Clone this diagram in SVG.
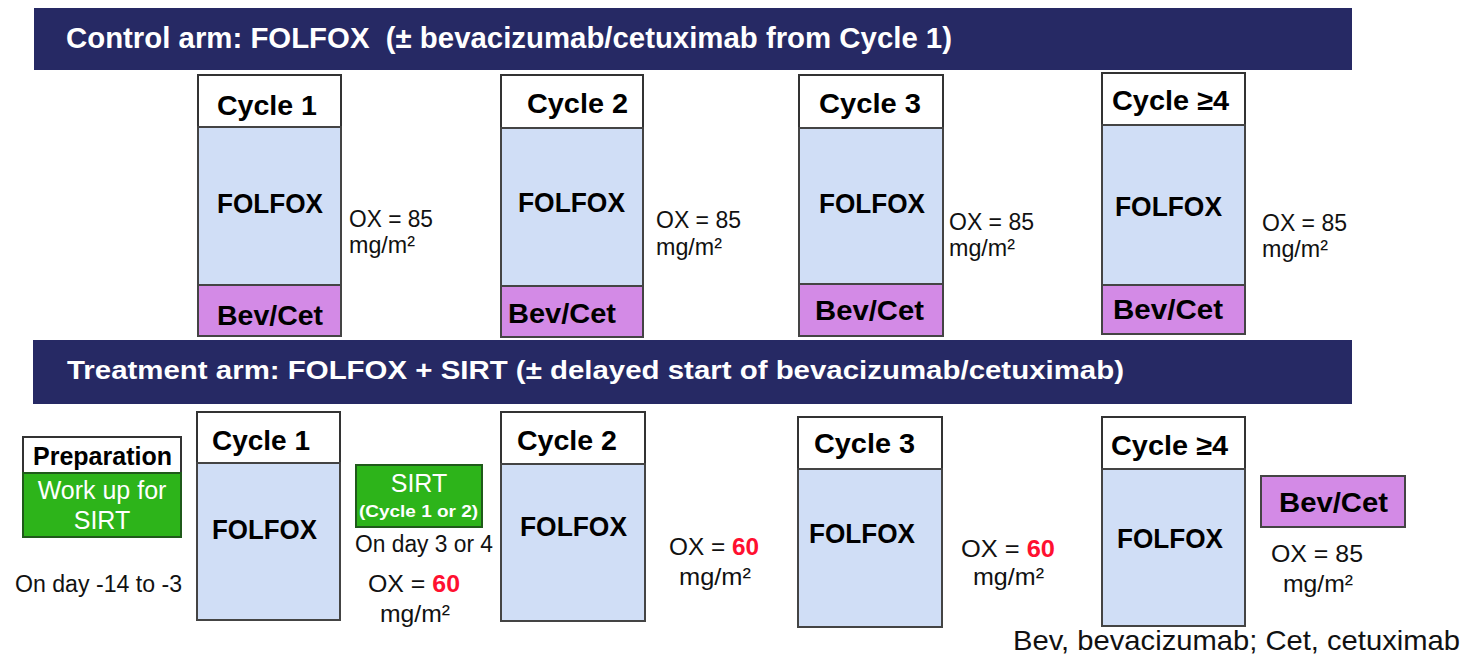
<svg xmlns="http://www.w3.org/2000/svg" width="1470" height="661" viewBox="0 0 1470 661">
<style>
text{font-family:"Liberation Sans",Arial,sans-serif;}
.hdr{fill:#262964;}
.hdrt{fill:#ffffff;font-weight:bold;}
.cyc{fill:#ffffff;stroke:#333333;stroke-width:2;}
.ff{fill:#d0def6;stroke:#444444;stroke-width:2;}
.bev{fill:#d38ae6;stroke:#444444;stroke-width:2;}
.grn{fill:#2db41a;stroke:#1f5a1a;stroke-width:2;}
.b28{font-size:28px;font-weight:bold;fill:#000;}
.ffx{font-size:27px;font-weight:bold;fill:#000;}
.ox{font-size:24px;fill:#111;}
.red{fill:#ff1030;font-weight:bold;}
.wt{font-size:25px;fill:#ffffff;}
</style>

<g id="control-header">
<rect class="hdr" x="34" y="8" width="1318" height="62"/>
<text class="hdrt" x="66" y="48" font-size="29" textLength="886" lengthAdjust="spacingAndGlyphs">Control arm: FOLFOX &#160;(± bevacizumab/cetuximab from Cycle 1)</text>
</g>

<g id="control-cycle1">
<rect class="cyc" x="198" y="75" width="143" height="52"/>
<rect class="ff" x="198" y="127" width="143" height="158"/>
<rect class="bev" x="198" y="285" width="143" height="51"/>
<text class="b28" x="217" y="115" textLength="100" lengthAdjust="spacingAndGlyphs">Cycle 1</text>
<text class="ffx" x="217" y="213" textLength="106" lengthAdjust="spacingAndGlyphs">FOLFOX</text>
<text class="b28" x="217" y="325" textLength="106" lengthAdjust="spacingAndGlyphs">Bev/Cet</text>
<text class="ox" x="349" y="227" textLength="84" lengthAdjust="spacingAndGlyphs">OX = 85</text>
<text class="ox" x="349" y="253" textLength="66" lengthAdjust="spacingAndGlyphs">mg/m²</text>
</g>

<g id="control-cycle2">
<rect class="cyc" x="501" y="75" width="142" height="53"/>
<rect class="ff" x="501" y="128" width="142" height="158"/>
<rect class="bev" x="501" y="286" width="142" height="51"/>
<text class="b28" x="527" y="113" textLength="101" lengthAdjust="spacingAndGlyphs">Cycle 2</text>
<text class="ffx" x="518" y="212" textLength="107" lengthAdjust="spacingAndGlyphs">FOLFOX</text>
<text class="b28" x="508" y="323" textLength="108" lengthAdjust="spacingAndGlyphs">Bev/Cet</text>
<text class="ox" x="656" y="228" textLength="85" lengthAdjust="spacingAndGlyphs">OX = 85</text>
<text class="ox" x="656" y="255" textLength="66" lengthAdjust="spacingAndGlyphs">mg/m²</text>
</g>

<g id="control-cycle3">
<rect class="cyc" x="799" y="75" width="144" height="53"/>
<rect class="ff" x="799" y="128" width="144" height="156"/>
<rect class="bev" x="799" y="284" width="144" height="52"/>
<text class="b28" x="819" y="113" textLength="102" lengthAdjust="spacingAndGlyphs">Cycle 3</text>
<text class="ffx" x="819" y="213" textLength="106" lengthAdjust="spacingAndGlyphs">FOLFOX</text>
<text class="b28" x="815" y="320" textLength="109" lengthAdjust="spacingAndGlyphs">Bev/Cet</text>
<text class="ox" x="949" y="230" textLength="85" lengthAdjust="spacingAndGlyphs">OX = 85</text>
<text class="ox" x="949" y="256" textLength="66" lengthAdjust="spacingAndGlyphs">mg/m²</text>
</g>

<g id="control-cycle4">
<rect class="cyc" x="1102" y="73" width="143" height="52"/>
<rect class="ff" x="1102" y="125" width="143" height="160"/>
<rect class="bev" x="1102" y="285" width="143" height="49"/>
<text class="b28" x="1112" y="110" textLength="117" lengthAdjust="spacingAndGlyphs">Cycle ≥4</text>
<text class="ffx" x="1115" y="216" textLength="107" lengthAdjust="spacingAndGlyphs">FOLFOX</text>
<text class="b28" x="1113" y="319" textLength="110" lengthAdjust="spacingAndGlyphs">Bev/Cet</text>
<text class="ox" x="1262" y="231" textLength="85" lengthAdjust="spacingAndGlyphs">OX = 85</text>
<text class="ox" x="1262" y="257" textLength="66" lengthAdjust="spacingAndGlyphs">mg/m²</text>
</g>

<g id="treatment-header">
<rect class="hdr" x="33" y="340" width="1319" height="64"/>
<text class="hdrt" x="67" y="379" font-size="25" textLength="1057" lengthAdjust="spacingAndGlyphs">Treatment arm: FOLFOX + SIRT (± delayed start of bevacizumab/cetuximab)</text>
</g>

<g id="preparation">
<rect class="cyc" x="23" y="437" width="158" height="36"/>
<rect class="grn" x="23" y="473" width="158" height="64"/>
<text class="b28" x="33" y="465" style="font-size:25px" textLength="139" lengthAdjust="spacingAndGlyphs">Preparation</text>
<text class="wt" x="102" y="499" text-anchor="middle">Work up for</text>
<text class="wt" x="102" y="529" text-anchor="middle">SIRT</text>
<text class="ox" x="15" y="592" style="font-size:23px" textLength="167" lengthAdjust="spacingAndGlyphs">On day -14 to -3</text>
</g>

<g id="treatment-cycle1">
<rect class="cyc" x="197" y="412" width="143" height="51"/>
<rect class="ff" x="197" y="463" width="143" height="157"/>
<text class="b28" x="212" y="450" textLength="98" lengthAdjust="spacingAndGlyphs">Cycle 1</text>
<text class="ffx" x="212" y="539" textLength="105" lengthAdjust="spacingAndGlyphs">FOLFOX</text>
</g>

<g id="sirt">
<rect class="grn" x="356" y="465" width="126" height="62"/>
<text class="wt" x="419" y="492" text-anchor="middle">SIRT</text>
<text x="359" y="517" style="font-size:16px;font-weight:bold;fill:#ffffff" textLength="119" lengthAdjust="spacingAndGlyphs">(Cycle 1 or 2)</text>
<text class="ox" x="355" y="552" style="font-size:23px" textLength="138" lengthAdjust="spacingAndGlyphs">On day 3 or 4</text>
<text class="ox" x="368" y="592" textLength="92" lengthAdjust="spacingAndGlyphs">OX = <tspan class="red">60</tspan></text>
<text class="ox" x="380" y="622" textLength="70" lengthAdjust="spacingAndGlyphs">mg/m²</text>
</g>

<g id="treatment-cycle2">
<rect class="cyc" x="501" y="412" width="144" height="52"/>
<rect class="ff" x="501" y="464" width="144" height="157"/>
<text class="b28" x="517" y="450" textLength="100" lengthAdjust="spacingAndGlyphs">Cycle 2</text>
<text class="ffx" x="520" y="536" textLength="107" lengthAdjust="spacingAndGlyphs">FOLFOX</text>
<text class="ox" x="669" y="555" textLength="90" lengthAdjust="spacingAndGlyphs">OX = <tspan class="red">60</tspan></text>
<text class="ox" x="679" y="585" textLength="72" lengthAdjust="spacingAndGlyphs">mg/m²</text>
</g>

<g id="treatment-cycle3">
<rect class="cyc" x="798" y="417" width="144" height="52"/>
<rect class="ff" x="798" y="469" width="144" height="158"/>
<text class="b28" x="814" y="453" textLength="101" lengthAdjust="spacingAndGlyphs">Cycle 3</text>
<text class="ffx" x="809" y="543" textLength="106" lengthAdjust="spacingAndGlyphs">FOLFOX</text>
<text class="ox" x="961" y="557" textLength="94" lengthAdjust="spacingAndGlyphs">OX = <tspan class="red">60</tspan></text>
<text class="ox" x="973" y="585" textLength="71" lengthAdjust="spacingAndGlyphs">mg/m²</text>
</g>

<g id="treatment-cycle4">
<rect class="cyc" x="1102" y="417" width="143" height="52"/>
<rect class="ff" x="1102" y="469" width="143" height="157"/>
<text class="b28" x="1111" y="455" textLength="117" lengthAdjust="spacingAndGlyphs">Cycle ≥4</text>
<text class="ffx" x="1117" y="548" textLength="106" lengthAdjust="spacingAndGlyphs">FOLFOX</text>
</g>

<g id="treatment-bevcet">
<rect class="bev" x="1261" y="476" width="144" height="51"/>
<text class="b28" x="1279" y="512" textLength="109" lengthAdjust="spacingAndGlyphs">Bev/Cet</text>
<text class="ox" x="1271" y="562" textLength="92" lengthAdjust="spacingAndGlyphs">OX = 85</text>
<text class="ox" x="1283" y="592" textLength="70" lengthAdjust="spacingAndGlyphs">mg/m²</text>
</g>

<g id="connectors"></g>

<g id="footnote">
<text x="1013" y="650" style="font-size:28px;fill:#111" textLength="447" lengthAdjust="spacingAndGlyphs">Bev, bevacizumab; Cet, cetuximab</text>
</g>
</svg>
